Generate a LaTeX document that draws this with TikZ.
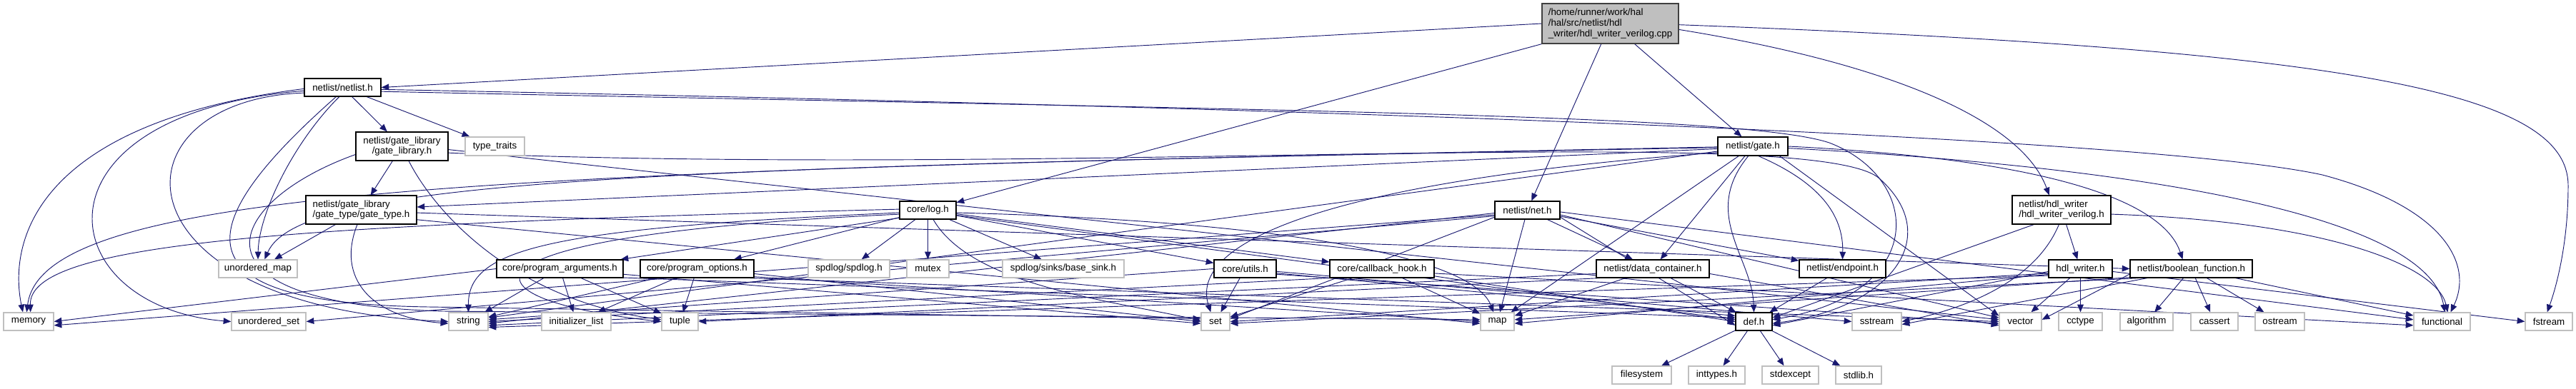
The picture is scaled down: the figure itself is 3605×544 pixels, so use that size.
\documentclass[tikz,border=0pt]{standalone}
\usepackage{fontspec}
\setmainfont{Liberation Sans}
\usetikzlibrary{arrows.meta}
\pgfdeclarelayer{edges}
\pgfsetlayers{edges,main}
\definecolor{edgec}{HTML}{191970}
\definecolor{sysc}{HTML}{BFBFBF}
\definecolor{mainfill}{HTML}{BFBFBF}
\definecolor{mainbd}{HTML}{404040}
\tikzset{
  base/.style={rectangle, inner sep=0pt, font=\fontsize{10pt}{10.5pt}\selectfont, fill=white},
  doc/.style={base, draw=black, line width=0.9pt},
  sys/.style={base, draw=sysc, line width=1pt},
  mainn/.style={base, draw=mainbd, fill=mainfill, line width=1pt, align=left, font=\fontsize{10pt}{11.25pt}\selectfont},
  e/.style={draw=edgec, line width=0.7pt, -{Triangle[length=8pt,width=6.5pt]}}
}
\newcommand\bx[7]{\node[#6,minimum width={(#4-#2)*0.75pt},minimum height={(#5-#3)*0.75pt}] (#1) at ({(#2+#4)/2},{(#3+#5)/2}) {#7};}
\begin{document}
\begin{tikzpicture}[x=0.75pt,y=-0.75pt]
\useasboundingbox (0,0) rectangle (3605,544);
% row 0-3
\bx{M}{2158}{5}{2349}{61}{mainn}{/home/runner/work/hal\\/hal/src/netlist/hdl\\\_writer/hdl\_writer\_verilog.cpp}
\bx{N}{426}{110}{533}{135}{doc}{netlist/netlist.h}
\bx{GL}{498}{185}{627}{225}{doc,align=center}{netlist/gate\_library\\/gate\_library.h}
\bx{TT}{651}{192}{734}{218}{sys}{type\_traits}
\bx{GATE}{2404}{192}{2502}{218}{doc}{netlist/gate.h}
\bx{GT}{428}{274}{583}{314}{doc,align=left}{netlist/gate\_library\\/gate\_type/gate\_type.h}
\bx{LOG}{1259}{282}{1338}{307}{doc}{core/log.h}
\bx{NET}{2092}{282}{2183}{307}{doc}{netlist/net.h}
\bx{HWV}{2816}{274}{2954}{314}{doc,align=left}{netlist/hdl\_writer\\/hdl\_writer\_verilog.h}
% row 4
\bx{UM}{306}{364}{416}{389}{sys}{unordered\_map}
\bx{PA}{695}{364}{872}{389}{doc}{core/program\_arguments.h}
\bx{PO}{896}{364}{1055}{389}{doc}{core/program\_options.h}
\bx{SP}{1131}{364}{1245}{389}{sys}{spdlog/spdlog.h}
\bx{MX}{1269}{364}{1328}{389}{sys}{mutex}
\bx{BS}{1403}{364}{1573}{389}{sys}{spdlog/sinks/base\_sink.h}
\bx{UT}{1699}{364}{1786}{389}{doc}{core/utils.h}
\bx{CB}{1861}{364}{2007}{389}{doc}{core/callback\_hook.h}
\bx{DC}{2234}{364}{2392}{389}{doc}{netlist/data\_container.h}
\bx{EP}{2518}{364}{2639}{389}{doc}{netlist/endpoint.h}
\bx{HW}{2867}{364}{2956}{389}{doc}{hdl\_writer.h}
\bx{BF}{2981}{364}{3152}{389}{doc}{netlist/boolean\_function.h}
% row 5
\bx{MEM}{5}{438}{75}{463}{sys}{memory}
\bx{US}{324}{438}{428}{463}{sys}{unordered\_set}
\bx{STR}{628}{438}{683}{463}{sys}{string}
\bx{IL}{758}{438}{855}{463}{sys}{initializer\_list}
\bx{TUP}{926}{438}{977}{463}{sys}{tuple}
\bx{SET}{1681}{438}{1721}{463}{sys}{set}
\bx{MAP}{2072}{438}{2119}{463}{sys}{map}
\bx{DEF}{2429}{438}{2480}{463}{doc}{def.h}
\bx{SS}{2592}{438}{2661}{463}{sys}{sstream}
\bx{VEC}{2798}{438}{2857}{463}{sys}{vector}
\bx{CC}{2881}{438}{2942}{463}{sys}{cctype}
\bx{ALG}{2967}{438}{3041}{463}{sys}{algorithm}
\bx{CAS}{3066}{438}{3132}{463}{sys}{cassert}
\bx{OST}{3156}{438}{3225}{463}{sys}{ostream}
\bx{FUN}{3378}{438}{3457}{463}{sys}{functional}
\bx{FS}{3534}{438}{3600}{463}{sys}{fstream}
% row 6
\bx{FSYS}{2256}{513}{2339}{538}{sys}{filesystem}
\bx{INT}{2363}{513}{2442}{538}{sys}{inttypes.h}
\bx{SEX}{2466}{513}{2545}{538}{sys}{stdexcept}
\bx{SLB}{2569}{513}{2633}{538}{sys}{stdlib.h}

\begin{pgfonlayer}{edges}
% ---- edges: main
\draw[e] (M.west) -- (N.east);
\draw[e] (M.south west) -- (LOG);
\draw[e] (M.-114) -- (NET);
\draw[e] (M.-40) -- (GATE);
\draw[e] (M.-5) .. controls (2650,90) and (2830,170) .. (HWV.130);
\draw[e] (M.-1) .. controls (3300,70) and (3594,130) .. (3594,260) .. controls (3594,340) and (3578,400) .. (FS.100);
% netlist.h
\draw[e] (N.-178) .. controls (60,170) and (10,330) .. ([xshift=-6pt]MEM.north);
\draw[e] (N.-175) .. controls (30,160) and (70,430) .. (US.west);
\draw[e] (N.-172) .. controls (150,140) and (150,430) .. (STR.west);
\draw[e] (N.-125) .. controls (250,330) and (260,425) .. (600,430) -- ([yshift=3pt]SET.west);
\draw[e] (N.-110) .. controls (410,200) and (362,300) .. (UM.north);
\draw[e] (N) -- (GL);
\draw[e] (N) -- (TT);
\draw[e] (N.-3) .. controls (1800,150) and (3000,190) .. (3250,245) .. controls (3420,290) and (3462,370) .. ([xshift=9pt]FUN.north);
\draw[e] (N.-6) .. controls (1800,155) and (2440,160) .. (2560,200) .. controls (2690,250) and (2700,410) .. ([yshift=2pt]DEF.east);
% gate_library.h
\draw[e] (GL) -- (GT);
\draw[e] (GL.-170) .. controls (320,280) and (240,425) .. (620,436) -- ([yshift=2pt]MAP.west);
\draw[e] (GL.-65) .. controls (610,300) and (720,420) .. ([yshift=2pt]TUP.west);
\draw[e] (GL.-8) .. controls (1500,250) and (2540,170) .. (2630,250) .. controls (2720,330) and (2650,430) .. ([yshift=-2pt]DEF.east);
\draw[e] (GL.-4) -- ([yshift=2pt]VEC.west);
% gate_type.h
\draw[e] (GT) -- (UM);
\draw[e] (GT.-105) .. controls (470,390) and (520,445) .. ([yshift=-2pt]STR.west);
\draw[e] (GT.-3) -- (BF.west);
\draw[e] (GT.-10) -- ([yshift=-2pt]MAP.west);
% log.h
\draw[e] (LOG) -- (SP);
\draw[e] (LOG) -- (MX);
\draw[e] (LOG) -- (BS);
\draw[e] (LOG) -- (UT);
\draw[e] (LOG) -- (CB);
\draw[e] (LOG.-165) -- ([xshift=-3pt]PA.north east);
\draw[e] (LOG) -- (PO);
\draw[e] (LOG.-175) .. controls (760,320) and (655,350) .. (STR.north);
\draw[e] (LOG.-172) .. controls (600,330) and (640,420) .. (TUP.west);
\draw[e] (LOG.178) .. controls (400,315) and (40,340) .. ([xshift=2pt]MEM.north);
\draw[e] (LOG.-60) .. controls (1360,400) and (1550,420) .. ([yshift=1pt]SET.west);
\draw[e] (LOG.-5) .. controls (1800,310) and (2060,360) .. ([xshift=-4pt]MAP.north);
\draw[e] (LOG.-10) -- ([yshift=2pt]DEF.west);
% program_arguments.h
\draw[e] (PA) -- (STR);
\draw[e] (PA) -- (IL);
\draw[e] (PA) -- (TUP);
\draw[e] (PA.west) -- (MEM.east);
\draw[e] (PA.-5) -- ([yshift=-2pt]SET.west);
\draw[e] (PA.-8) -- ([yshift=4pt]DEF.west);
% program_options.h
\draw[e] (PO) -- (STR);
\draw[e] (PO) -- (IL);
\draw[e] (PO) -- (TUP);
\draw[e] (PO.-5) -- (SET.west);
\draw[e] (PO.-8) -- (MAP.west);
\draw[e] (PO.-10) -- (VEC.west);
% utils.h
\draw[e] (UT) -- (SET);
\draw[e] (UT.west) -- ([yshift=2pt]STR.east);
\draw[e] (UT.-5) -- (SS.west);
\draw[e] (UT.-8) -- ([yshift=6pt]DEF.west);
\draw[e] (UT.-10) -- ([yshift=-2pt]VEC.west);
% callback_hook.h
\draw[e] (CB) -- (MAP);
\draw[e] (CB) -- (SET);
\draw[e] (CB.-170) -- (STR.east);
\draw[e] (CB.-5) -- ([yshift=-4pt]FUN.west);
\draw[e] (CB.-8) -- (DEF.west);
% net.h
\draw[e] (NET) -- (DC);
\draw[e] (NET) -- (MAP);
\draw[e] (NET) -- (EP);
\draw[e] (NET.-175) -- ([yshift=-2pt]STR.east);
\draw[e] (NET.-172) -- ([yshift=-4pt]MEM.east);
\draw[e] (NET.-170) -- (US.east);
\draw[e] (NET.-168) -- ([yshift=3pt]SET.east);
\draw[e] (NET.-3) -- ([yshift=2pt]FUN.west);
\draw[e] (NET.-8) -- ([yshift=4pt]VEC.west);
\draw[e] (NET.-12) -- ([yshift=-4pt]DEF.west);
% data_container.h
\draw[e] (DC) -- (MAP);
\draw[e] (DC) -- (DEF);
\draw[e] (DC.-175) -- ([yshift=-4pt]STR.east);
\draw[e] (DC.-170) -- (TUP.east);
\draw[e] (DC.-5) -- ([yshift=-4pt]VEC.west);
% endpoint.h
\draw[e] (EP) -- (DEF);
% gate.h
\draw[e] (GATE.-176) -- ([yshift=3pt]GT.east);
\draw[e] (GATE.east) .. controls (2900,225) and (3030,290) .. ([xshift=-9pt]BF.north);
\draw[e] (GATE) -- (DC);
\draw[e] (GATE.-60) .. controls (2545,255) and (2580,300) .. (EP.north);
\draw[e] (GATE) -- (MAP);
\draw[e] (GATE.-115) .. controls (2380,300) and (2452,360) .. (DEF.north);
\draw[e] (GATE.-178) .. controls (900,235) and (420,250) .. ([xshift=7pt]UM.north);
\draw[e] (GATE.-179) .. controls (700,240) and (60,260) .. ([xshift=-2pt]MEM.north);
\draw[e] (GATE.-170) .. controls (1900,250) and (1660,330) .. ([xshift=-5pt]SET.north);
\draw[e] (GATE.-172) -- ([yshift=4pt]STR.east);
\draw[e] (GATE.-3) .. controls (3100,240) and (3400,320) .. ([xshift=3pt]FUN.north);
\draw[e] (GATE.-20) -- ([yshift=6pt]VEC.west);
% hdl_writer_verilog.h
\draw[e] (HWV) -- (HW);
\draw[e] (HWV.-152) -- ([yshift=4pt]DEF.east);
\draw[e] (HWV.-100) .. controls (2850,390) and (2760,430) .. (SS.east);
\draw[e] (HWV.-5) .. controls (3250,310) and (3410,370) .. ([xshift=6pt]FUN.north);
% hdl_writer.h
\draw[e] (HW) -- (VEC);
\draw[e] (HW) -- (CC);
\draw[e] (HW.-175) -- ([yshift=-4pt]DEF.east);
\draw[e] (HW.-170) -- ([yshift=-2pt]MAP.east);
\draw[e] (HW.-172) -- (SET.east);
\draw[e] (HW.-168) -- ([yshift=-6pt]STR.east);
\draw[e] (HW.-5) -- (FS.west);
% boolean_function.h
\draw[e] (BF) -- (ALG);
\draw[e] (BF) -- (CAS);
\draw[e] (BF) -- (OST);
\draw[e] (BF) -- (FUN);
\draw[e] (BF.-175) -- ([yshift=2pt]VEC.east);
\draw[e] (BF.-172) -- ([yshift=2pt]MAP.east);
\draw[e] (BF.-170) -- ([yshift=-2pt]SET.east);
\draw[e] (BF.-168) -- ([yshift=-3pt]SS.east);
% def.h
\draw[e] (DEF) -- (FSYS);
\draw[e] (DEF) -- (INT);
\draw[e] (DEF) -- (SEX);
\draw[e] (DEF) -- (SLB);
\end{pgfonlayer}
\end{tikzpicture}
\end{document}
